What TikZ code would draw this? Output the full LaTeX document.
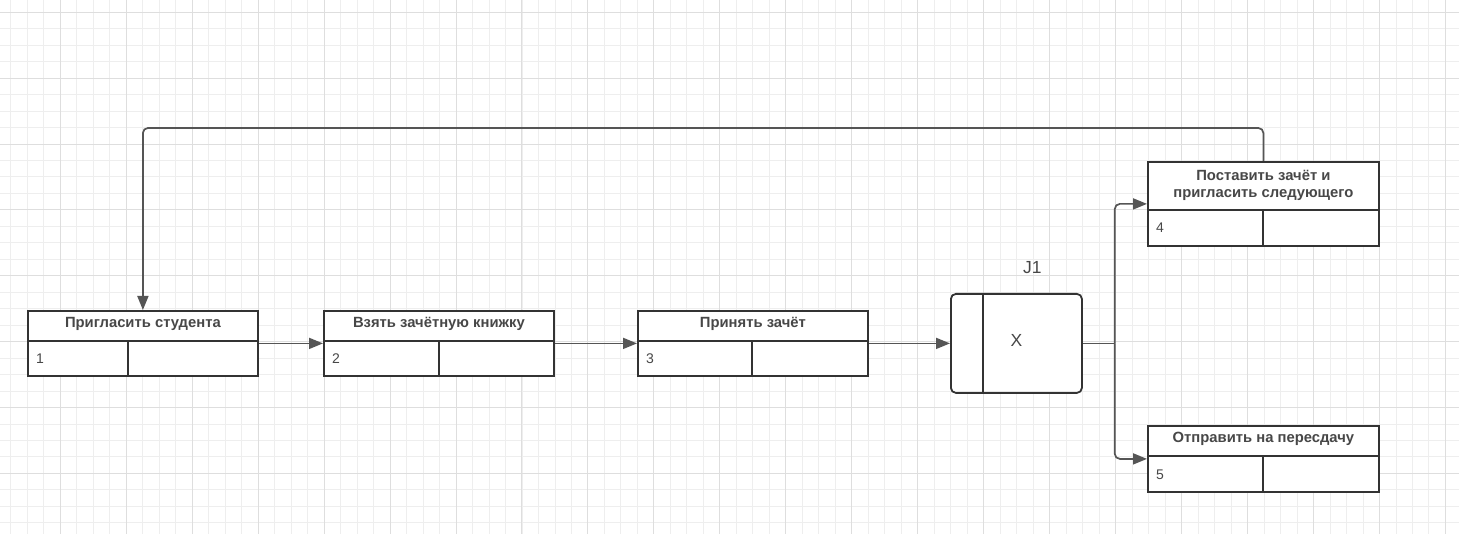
\documentclass[tikz,border=0pt]{standalone}
\usepackage{fontspec}
\setmainfont{Liberation Sans}
\usetikzlibrary{arrows.meta,calc}

\definecolor{gridminor}{HTML}{EEEEEE}
\definecolor{gridmajor}{HTML}{DEDEDE}
\definecolor{edge}{HTML}{333333}
\definecolor{wire}{HTML}{555555}
\definecolor{ink}{HTML}{474747}

\begin{document}
\begin{tikzpicture}[x=1pt,y=-1pt,
  actbox/.style={draw=edge, line width=1.8pt, fill=white, inner sep=0pt,
    minimum width=230pt, anchor=north west},
  sepline/.style={draw=edge, line width=1.8pt},
  title/.style={text=ink, font=\fontsize{14.8}{17}\selectfont\bfseries,
    align=center, inner sep=0pt},
  num/.style={text=ink, font=\fontsize{14}{16}\selectfont, inner sep=0pt, anchor=west},
  junction/.style={draw=edge, line width=1.8pt, fill=white, rounded corners=5pt,
    inner sep=0pt, minimum width=131pt, minimum height=99pt, anchor=north west},
  plain/.style={text=ink, font=\fontsize{17.5}{20}\selectfont, inner sep=0pt},
  wirebase/.style={draw=wire, line width=1.7pt, rounded corners=5pt},
  wire/.style={wirebase, -{Triangle[length=14pt,width=11pt]}},
]
\useasboundingbox (0,0) rectangle (1459,534);
\fill[white] (0,0) rectangle (1459,534);

% background grid
\foreach \k in {0,...,88}
  \draw[gridminor, line width=1pt] ({10.83+16.49*\k},0) -- ({10.83+16.49*\k},534);
\foreach \k in {-1,...,32}
  \draw[gridminor, line width=1pt] (0,{12.3+16.47*\k}) -- (1459,{12.3+16.47*\k});
\foreach \k in {0,...,21}
  \draw[gridmajor, line width=1pt] ({60.3+65.95*\k},0) -- ({60.3+65.95*\k},534);
\foreach \k in {0,...,8}
  \draw[gridmajor, line width=1pt] (0,{12.3+65.88*\k}) -- (1459,{12.3+65.88*\k});

% activity boxes
\node[actbox, minimum height=65pt] (b1) at (27,310) {};
\node[actbox, minimum height=65pt] (b2) at (323,310) {};
\node[actbox, minimum height=65pt] (b3) at (637,310) {};
\node[actbox, minimum height=84pt, minimum width=231pt] (b4) at (1147,161) {};
\node[actbox, minimum height=66pt, minimum width=231pt] (b5) at (1147,425) {};

% header rows and reference cells
\foreach \b/\hh/\dx in {b1/31/101, b2/31/116, b3/31/115, b4/49/116, b5/31/116} {
  \draw[sepline] ($(\b.north west)+(0,\hh)$) -- ($(\b.north east)+(0,\hh)$);
  \draw[sepline] ($(\b.north west)+(\dx,\hh)$) -- ($(\b.south west)+(\dx,0)$);
}

\node[title] (t1) at ($(b1.north)+(0,14)$) {Пригласить студента};
\node[title] (t2) at ($(b2.north)+(0,14)$) {Взять зачётную книжку};
\node[title] (t3) at ($(b3.north)+(0,14)$) {Принять зачёт};
\node[title] (t4) at ($(b4.north)+(0,24)$) {Поставить зачёт и\\пригласить следующего};
\node[title] (t5) at ($(b5.north)+(0,14)$) {Отправить на пересдачу};

\node[num] (n1) at ($(b1.south west)+(9,-18)$) {1};
\node[num] (n2) at ($(b2.south west)+(9,-18)$) {2};
\node[num] (n3) at ($(b3.south west)+(9,-18)$) {3};
\node[num] (n4) at ($(b4.south west)+(9,-19)$) {4};
\node[num] (n5) at ($(b5.south west)+(9,-18)$) {5};

% junction J1
\node[junction] (j1) at (950,293) {};
\draw[sepline] ($(j1.north west)+(33,0)$) -- ($(j1.south west)+(33,0)$);
\node[plain] (jx) at ($(j1.center)+(0,-3)$) {X};
\node[plain] (jl) at ($(j1.north)+(16,-25)$) {J1};

% connectors
\coordinate (split) at ($(j1.east)+(32,0)$);
\draw[wire] (b1.east) -- (b2.west);
\draw[wire] (b2.east) -- (b3.west);
\draw[wire] (b3.east) -- (j1.west);
\draw[wirebase] (j1.east) -- (split);
\draw[wire] (split) |- (b4.west);
\draw[wire] (split) |- (b5.west);
\draw[wire] (b4.north) -- ($(b4.north)+(0,-33)$) -| (b1.north);
\end{tikzpicture}
\end{document}
